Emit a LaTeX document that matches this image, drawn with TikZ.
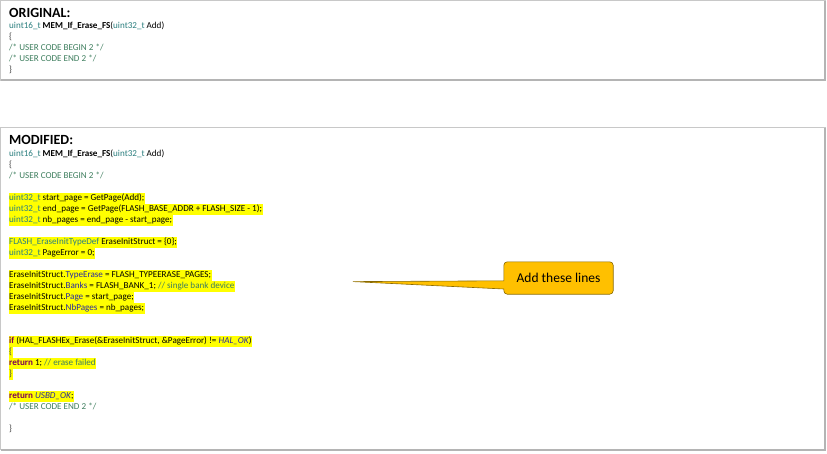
\documentclass[tikz,border=0pt]{standalone}
\usepackage{fontspec}
\setmainfont{Carlito}
\definecolor{tycol}{HTML}{2B7F7F}
\definecolor{cmcol}{HTML}{3F7F5F}
\definecolor{kwcol}{HTML}{7F0055}
\definecolor{fdcol}{HTML}{2A2AA0}
\definecolor{bracecol}{HTML}{404040}
\definecolor{hlyellow}{HTML}{FFFF00}
\definecolor{boxgray}{HTML}{C8C8C8}
\definecolor{calloutfill}{HTML}{FFC000}
\definecolor{calloutdraw}{HTML}{8A6A00}
\newcommand\ty[1]{\textcolor{tycol}{#1}}
\newcommand\cm[1]{\textcolor{cmcol}{#1}}
\newcommand\kw[1]{\textcolor{kwcol}{\textbf{#1}}}
\newcommand\fd[1]{\textcolor{fdcol}{#1}}
\newcommand\cn[1]{\textcolor{fdcol}{\textit{#1}}}
\newcommand\br[1]{\textcolor{bracecol}{#1}}
\newcommand\codefont{\fontsize{9.1}{10}\selectfont}
\begin{document}
\begin{tikzpicture}[x=1pt,y=-1pt,
  code/.style={anchor=west, inner xsep=0.6pt, inner ysep=0pt, text height=7.6pt, text depth=3.4pt, font=\codefont},
  hl/.style={code, fill=hlyellow},
  title/.style={anchor=west, inner sep=0pt, font=\fontsize{14}{16}\selectfont\bfseries},
  panel/.style={draw=boxgray, line width=0.8pt},
  shadowline/.style={draw=boxgray!90!black, line width=1.6pt},
  callout/.style={fill=calloutfill, draw=calloutdraw, line width=0.6pt}]
\useasboundingbox (0,0) rectangle (827,453);
\fill[white] (0,0) rectangle (827,453);
% panels
\draw[panel] (0.8,0.8) rectangle (825,80);
\draw[shadowline] (825.2,1) -- (825.2,80.2) -- (1,80.2);
\draw[panel] (0.8,127.5) rectangle (825,449.5);
\draw[shadowline] (825.2,127.7) -- (825.2,449.7) -- (1,449.7);
% ORIGINAL
\node[title] (t1) at (9,13) {ORIGINAL:};
\node[code] (o1) at (8.4,26) {\ty{uint16\_t} \textbf{MEM\_If\_Erase\_FS}(\ty{uint32\_t} Add)};
\node[code] (o2) at (8.4,37) {\br{\{}};
\node[code] (o3) at (8.4,48) {\cm{/* USER CODE BEGIN 2 */}};
\node[code] (o4) at (8.4,59) {\cm{/* USER CODE END 2 */}};
\node[code] (o5) at (8.4,70) {\br{\}}};
% MODIFIED
\node[title] (t2) at (9,139.5) {MODIFIED:};
\node[code] (m1) at (8.4,154) {\ty{uint16\_t} \textbf{MEM\_If\_Erase\_FS}(\ty{uint32\_t} Add)};
\node[code] (m2) at (8.4,165) {\br{\{}};
\node[code] (m3) at (8.4,176) {\cm{/* USER CODE BEGIN 2 */}};
\node[hl] (m4) at (8.4,198) {\ty{uint32\_t} start\_page = GetPage(Add);};
\node[hl] (m5) at (8.4,209) {\ty{uint32\_t} end\_page = GetPage(FLASH\_BASE\_ADDR + FLASH\_SIZE - 1);};
\node[hl] (m6) at (8.4,220) {\ty{uint32\_t} nb\_pages = end\_page - start\_page;};
\node[hl] (m7) at (8.4,242) {\ty{FLASH\_EraseInitTypeDef} EraseInitStruct = \{0\};};
\node[hl] (m8) at (8.4,253) {\ty{uint32\_t} PageError = 0;};
\node[hl] (m9) at (8.4,275) {EraseInitStruct.\fd{TypeErase} = FLASH\_TYPEERASE\_PAGES;};
\node[hl] (m10) at (8.4,286) {EraseInitStruct.\fd{Banks} = FLASH\_BANK\_1; \cm{// single bank device}};
\node[hl] (m11) at (8.4,297) {EraseInitStruct.\fd{Page} = start\_page;};
\node[hl] (m12) at (8.4,308) {EraseInitStruct.\fd{NbPages} = nb\_pages;};
\node[hl] (m13) at (8.4,341) {\kw{if} (HAL\_FLASHEx\_Erase(\&EraseInitStruct, \&PageError) != \cn{HAL\_OK})};
\node[hl] (m14) at (8.4,352) {\br{\{}};
\node[hl] (m15) at (8.4,363) {\kw{return} 1; \cm{// erase failed}};
\node[hl] (m16) at (8.4,374) {\br{\}}};
\node[hl] (m17) at (8.4,396) {\kw{return} \cn{USBD\_OK};};
\node[code] (m18) at (8.4,407) {\cm{/* USER CODE END 2 */}};
\node[code] (m19) at (8.4,429) {\br{\}}};
% callout
\node[inner sep=0pt, minimum width=109pt, minimum height=32pt] (callout) at (558.5,278) {};
\coordinate (tip) at (353,281.6);
\draw[callout, rounded corners=3.5pt]
  (callout.west |- 0,280.8) -- (callout.north west) -- (callout.north east) -- (callout.south east) -- (callout.south west)
  [sharp corners] -- (callout.west |- 0,289) -- (tip) -- cycle;
\node[font=\fontsize{13.5}{15}\selectfont, text=black, inner sep=0pt] (calltext) at (callout.center) {Add these lines};
\end{tikzpicture}
\end{document}
